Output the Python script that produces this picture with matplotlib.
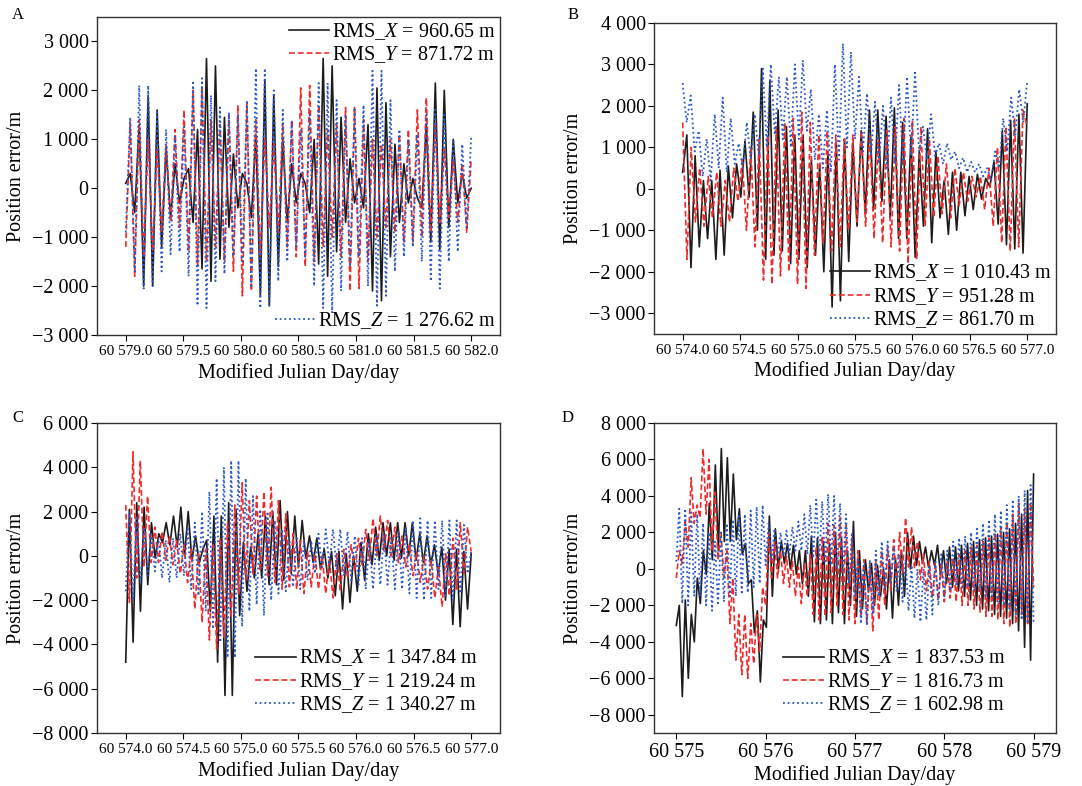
import numpy as np
import matplotlib
matplotlib.use("Agg")
import matplotlib.pyplot as plt
from matplotlib.ticker import FuncFormatter, MultipleLocator

plt.rcParams['font.family'] = ['Liberation Serif', 'DejaVu Serif']
plt.rcParams['mathtext.fontset'] = 'custom'
plt.rcParams['mathtext.rm'] = 'Liberation Serif'
plt.rcParams['mathtext.it'] = 'Liberation Serif:italic'

# ---- panel A: MJD 60579-60582, peak/trough samples (m)
a_t = (60579.0, 60582.0)
a_x = [100, 300, -500, 1300, -2000, 1900, -2000, 1600, -1200, 800, -600, 500, -300, 200, 400, -700,
       1200, -1650, 2650, -1900, 2500, -1450, 1450, -800, 700, -400, 300, 100, -600, 1100, -2200, 2200,
       -2400, 1900, -1600, 1000, -700, 500, -300, 300, 100, -500, 1000, -1550, 2650, -1800, 2500, -1300,
       1450, -700, 600, -300, 200, -400, 1300, -2100, 2050, -2300, 1750, -1400, 900, -700, 500, -300,
       200, -200, -400, 1300, -1100, 2150, -1250, 2000, -800, 1000, -300, 300, -200, 0]
a_y = [-1200, 1350, -1800, 1400, -1400, 1000, -1300, 800, -900, 900, -700, 1200, -800, 1600, -1300, 2000,
       -1600, 2050, -1500, 1400, -1200, 1300, -1500, 1500, -1700, 1700, -2200, 1750, -2100, 1400, -1400,
       1000, -800, 900, -900, 1300, -1200, 1400, -1400, 2050, -1600, 2100, -1500, 1700, -1200, 1200,
       -1000, 1300, -1400, 1650, -2100, 1650, -2050, 1400, -1500, 1000, -1000, 900, -800, 1000, -900,
       1100, -1100, 1200, -1100, 1600, -1000, 1850, -900, 1300, -700, 800, -600, 600, -700, 500, -900, 600]
a_z = [-900, 1450, -1700, 2100, -2050, 2100, -2000, 1600, -1700, 1200, -1350, 1050, -1300, 1300, -1800,
       2200, -2400, 2250, -2450, 1900, -1900, 1650, -1750, 1550, -1400, 1500, -1500, 1800, -2000, 2450,
       -2450, 2450, -2400, 2000, -1900, 1600, -1500, 1350, -1200, 1200, -1400, 1500, -2000, 2150, -2450,
       2150, -2550, 1800, -2100, 1500, -1600, 1650, -1400, 1700, -2000, 2400, -2400, 2400, -2200, 1800,
       -1700, 1200, -1400, 1000, -1200, 1100, -1500, 1500, -1900, 1650, -2050, 1500, -1500, 1000, -1300,
       900, -800, 1050]
a_rms = ["960.65", "871.72", "1 276.62"]

# ---- panel B: MJD 60574-60577
b_t = (60574.0, 60577.0)
b_x = [400, 1300, -1900, 800, -1400, 200, -1200, 200, -1700, 450, -1600, 550, -700, 600, -200, 1150,
       -200, 1850, -1000, 2900, -1700, 2600, -1600, 1900, -1500, 1500, -1800, 1300, -1700, 1300, -1900,
       700, -1600, 600, -2000, 900, -2850, 1100, -2700, 1200, -1750, 1100, -900, 1400, -600, 1900, -500,
       1900, -300, 1750, -700, 1950, -1200, 1600, -1200, 1250, -1650, 900, -900, 1450, -1300, 900, -700,
       200, -1100, 400, -1000, 400, -650, 300, -500, 350, -250, 250, 50, 650, -850, 1400, -1350, 1650,
       -1450, 1800, -1550, 2050]
b_y = [1600, -1700, 1000, -800, 500, -900, 300, -700, 400, -900, 200, -800, 500, -300, 700, -1000, 1000,
       -1400, 1200, -2200, 1300, -2300, 1500, -2100, 1600, -2000, 1700, -2300, 1850, -2400, 1600, -1600,
       1300, -1300, 1400, -1500, 1300, -1400, 1200, -1000, 1300, -800, 1400, -900, 1300, -1200, 1200,
       -1300, 1400, -1400, 1500, -1500, 1700, -1800, 1650, -1700, 1500, -900, 1200, -700, 800, -600, 600,
       -700, 500, -400, 400, -300, 300, -200, 300, -500, 500, -900, 1000, -1300, 1500, -1500, 1700,
       -1400, 1900, 1500]
b_z = [2550, 1600, 2250, 900, 1400, 300, 1200, 200, 1800, 500, 2200, 400, 1700, 600, 1100, 500, 1600,
       700, 1800, 800, 2900, 1000, 3000, 1300, 2700, 1200, 2700, 1000, 3000, 1200, 3100, 1400, 2400, 700,
       1800, 500, 1900, 400, 3000, 700, 3500, 1000, 3300, 1200, 2700, 900, 2300, 800, 2100, 600, 2000,
       500, 2200, 600, 2500, 600, 2700, 800, 2800, 900, 1500, 700, 1800, 800, 1100, 600, 1100, 700, 900,
       500, 750, 400, 650, 400, 600, 300, 500, 200, 900, 500, 1700, 900, 2200, 1300, 2400, 1600, 2600]
b_rms = ["1 010.43", "951.28", "861.70"]

# ---- panel C: MJD 60574-60577
c_t = (60574.0, 60577.0)
c_x = [-4800, 2100, -3900, 2400, -2500, 2200, -1300, 1500, -100, 1000, 600, 1500, 500, 1800, 400, 2200,
       0, 2000, -200, 900, -300, 300, 700, -2500, 1800, -4800, 1800, -6300, 2400, -6300, 2100, -2700,
       600, -1600, 400, -1000, 1000, -1000, 1800, -1300, 2000, -1300, 2500, -1100, 2000, -800, 1800,
       -500, 1600, -100, 900, -300, 800, -600, 300, -1000, 200, -1800, 200, -2400, 100, -2100, 0, -1600,
       600, -1100, 1000, -400, 1300, -200, 1500, 0, 1500, -200, 1500, -100, 1500, 0, 1500, -200, 1000,
       -300, 900, -400, 500, -800, 400, -2000, 300, -3100, 300, -3200, 200, -2400, 100]
c_y = [2300, -2100, 4700, -1000, 4300, -500, 2700, -300, 1300, -300, 1100, -200, 900, -400, 700, -800,
       500, -1200, 300, -2400, 100, -3000, 300, -3800, 500, -4200, 800, -3700, 1500, -2800, 2300, -1700,
       3300, -1100, 2500, -800, 2700, -700, 2900, -900, 3100, -1200, 2500, -1500, 1900, -1400, 1000,
       -1500, 700, -1700, 200, -1400, 100, -1500, 0, -1700, -100, -1900, 100, -1600, 300, -1000, 500,
       -700, 800, -400, 1200, -200, 1700, 0, 1800, 200, 1600, 0, 1300, -300, 900, -500, 500, -900, 200,
       -1200, 0, -1500, -200, -1900, -500, -2300, 100, -1800, 800, -1500, 1500, -800, 1300, 200]
c_z = [-1600, 2000, -2000, 1800, -1200, 1300, -900, 1000, -700, 800, -1000, 700, -1200, 800, -1000, 1000,
       -900, 1300, -1500, 1500, -1800, 2000, -2500, 2900, -3300, 3500, -3900, 4000, -4600, 4300, -4600,
       4300, -3200, 3500, -2500, 2700, -2200, 2100, -2700, 2000, -2000, 1600, -1700, 1200, -1600, 800,
       -1400, 800, -1500, 700, -1100, 700, -800, 1000, -600, 1200, -400, 1200, -600, 1200, -900, 1100,
       -1100, 900, -1300, 800, -1500, 700, -1500, 900, -1300, 1000, -1300, 900, -1500, 1100, -1500,
       1300, -1700, 1600, -1900, 1700, -2000, 1600, -1900, 1600, -1500, 1600, -1800, 1600, -2000, 1600,
       -1700, 1400, -800, 200]
c_rms = ["1 347.84", "1 219.24", "1 340.27"]

# ---- panel D: MJD 60575-60579
d_t = (60575.0, 60579.0)
d_x = [-3100, -2000, -7000, -1700, -6000, -2500, -4000, -500, -1900, 1000, -300, 3600, 500, 5700, 1000,
       6600, 1500, 6100, 1500, 5200, 1600, 3300, 800, 1400, -800, -600, -3500, -2300, -6200, -2800,
       -3200, 2900, -1500, 2200, 0, 1500, 300, 1400, 0, 1300, -300, 1000, -800, 1000, -1500, 1800,
       -2900, 1700, -3000, 1500, -2800, 1400, -3000, 2000, -2400, 1700, -3000, 1000, -2000, 2600, -2600,
       1000, -2200, 500, -1200, 300, -2000, 200, -1500, 0, -2200, 500, -2700, 600, -2000, 1000, -1500,
       2000, 0, 1800, 200, 1500, 300, 1200, 100, 1000, 200, 1300, -300, 1000, -800, 1200, -1000, 1200,
       -1200, 1300, -1500, 1400, -1700, 1500, -2000, 1600, -2200, 1700, -2300, 1800, -2500, 1900, -2600,
       2000, -2700, 2200, -3000, 2500, -3400, 3000, -4300, 4300, -5000, 5200]
d_y = [-500, 1000, 300, 2600, 1200, 5000, 2500, 3500, 2800, 6600, 3000, 6000, 1000, 4200, 500, 2000, -500,
       1000, -3000, -500, -5000, -2500, -5800, -2500, -6000, -3000, -5200, -2500, -4500, -1000, -2000,
       2000, -500, 1500, -500, 1000, -800, 700, -1000, 400, -1500, 100, -1900, 300, -1500, 800, -2500,
       1200, -2800, 1800, -2600, 2500, -2400, 2400, -2000, 2800, -2500, 2400, -2800, 1700, -3000, 1000,
       -2600, 500, -3000, 300, -3400, 500, -2800, 1000, -2000, 1200, -1200, 1600, -800, 2000, -200, 2800,
       100, 2300, 0, 1500, -600, 800, -1200, 400, -1600, 300, -1700, 300, -1800, 500, -1600, 600, -1800,
       800, -2000, 1000, -2000, 1200, -2200, 1300, -2400, 1500, -2600, 1700, -2600, 2000, -2800, 2300,
       -3000, 2600, -3200, 3000, -3000, 3600, -2500, 3300, -3000, 3600, -1000]
d_z = [400, 3300, -1900, 3300, -2000, 3100, -1500, 3000, -1500, 2500, -2000, 2000, -2300, 1500, -2000,
       2000, -1800, 2500, -1500, 2700, -1500, 2900, -1400, 3000, -1300, 3200, -1000, 3400, -800, 3500,
       200, 2500, 500, 2200, 600, 2000, 700, 2100, 800, 2300, 1000, 2600, 1000, 3000, 800, 3500, 600,
       3800, 500, 3700, 300, 4100, 200, 4000, 0, 3600, -200, 3000, -800, 2000, -1500, 500, -3000, 300,
       -3100, 500, -2500, 1000, -1500, 1500, -1000, 1500, -800, 1200, -1200, 800, -1800, 500, -2300, 200,
       -2700, 0, -2900, 0, -2800, 200, -2500, 500, -2000, 800, -1500, 1000, -1200, 1500, -900, 1700,
       -1000, 1800, -1000, 2000, -1200, 2200, -1200, 2500, -1500, 2700, -1500, 3000, -1800, 3200, -2000,
       3500, -2200, 3800, -2500, 4000, -2800, 4300, -3000, 4600, -3000]
d_rms = ["1 837.53", "1 816.73", "1 602.98"]

c_black = '#1c1c1c'
c_red = '#ef2b2b'
c_blue = '#2a57c6'
fs = 14.5


def yfmt(v, pos):
    s = f"{abs(v):,.0f}".replace(",", " ")
    return ("\u2212" + s) if v < 0 else s


def draw(ax, tspan, xs, ys, zs, rms, ylim, ystep, xstep, xdec, xfs, z_apart, leg_anchor):
    for vals, col, ls, lw, comp in [(xs, c_black, '-', 1.2, 'X'),
                                    (ys, c_red, (0, (3.5, 1.8)), 1.2, 'Y'),
                                    (zs, c_blue, (0, (1, 1.6)), 1.3, 'Z')]:
        t = np.linspace(tspan[0], tspan[1], len(vals))
        ax.plot(t, vals, color=col, linestyle=ls, linewidth=lw,
                label=r"RMS_$%s$ = %s m" % (comp, rms["XYZ".index(comp)]))
    # a quarter day of empty space on each side
    ax.set_xlim(tspan[0] - 0.25, tspan[1] + 0.25)
    ax.set_ylim(*ylim)
    ax.yaxis.set_major_locator(MultipleLocator(ystep))
    ax.yaxis.set_major_formatter(FuncFormatter(yfmt))
    ax.set_xticks(np.arange(tspan[0], tspan[1] + 0.01, xstep))
    ax.xaxis.set_major_formatter(FuncFormatter(
        lambda v, p: f"{v:,.{xdec}f}".replace(",", " ")))
    ax.tick_params(axis='y', direction='out', length=4, width=0.8, labelsize=fs, pad=2)
    ax.tick_params(axis='x', direction='out', length=4, width=0.8, labelsize=xfs, pad=3)
    for sp in ax.spines.values():
        sp.set_linewidth(1.0)
        sp.set_color('#333333')
    ax.set_ylabel("Position error/m", fontsize=fs)
    ax.set_xlabel("Modified Julian Day/day", fontsize=fs)
    h, l = ax.get_legend_handles_labels()
    kw = dict(frameon=False, fontsize=fs, handlelength=2.0, handletextpad=0.15,
              labelspacing=0.12, borderpad=0.1, borderaxespad=0.1)
    if z_apart:
        leg = ax.legend(h[:2], l[:2], loc='upper right', **kw)
        ax.add_artist(leg)
        ax.legend(h[2:], l[2:], loc='lower right', **kw)
    else:
        ax.legend(h, l, loc='lower right', bbox_to_anchor=leg_anchor, **kw)
    return ax


fig = plt.figure(figsize=(10.82, 7.86), dpi=100)
axA = fig.add_axes([0.0896, 0.5738, 0.3725, 0.4046])
axB = fig.add_axes([0.6044, 0.5751, 0.3715, 0.3957])
axC = fig.add_axes([0.0896, 0.0674, 0.3725, 0.3944])
axD = fig.add_axes([0.6044, 0.0674, 0.3715, 0.3944])

draw(axA, a_t, a_x, a_y, a_z, a_rms, (-3000, 3500), 1000, 0.5, 1, 11, True, None)
draw(axB, b_t, b_x, b_y, b_z, b_rms, (-3500, 4000), 1000, 0.5, 1, 11, False, (1.0, 0.0))
draw(axC, c_t, c_x, c_y, c_z, c_rms, (-8000, 6000), 2000, 0.5, 1, 11, False, (0.955, 0.045))
draw(axD, d_t, d_x, d_y, d_z, d_rms, (-9000, 8000), 2000, 1.0, 0, fs, False, (0.885, 0.045))

for ax in (axA, axB, axC, axD):
    ax.yaxis.set_label_coords(-0.177, 0.5)
axA.xaxis.set_label_coords(0.5, -0.088)
axB.xaxis.set_label_coords(0.5, -0.086)
axC.xaxis.set_label_coords(0.5, -0.089)
axD.xaxis.set_label_coords(0.5, -0.105)

for lbl, x, y in [('A', 18, 15), ('B', 573, 15), ('C', 18, 418), ('D', 568, 418)]:
    fig.text(x / 1082, 1 - y / 786, lbl, fontsize=12, ha='center', va='center')

fig.savefig("out.png", dpi=100)
